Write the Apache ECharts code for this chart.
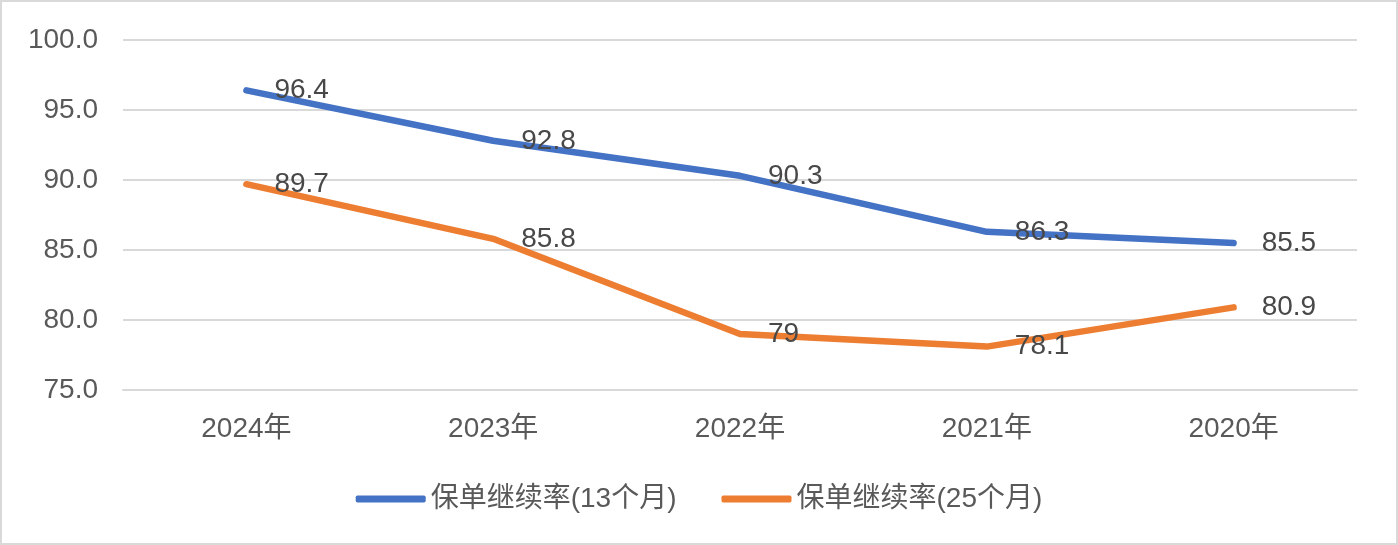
<!DOCTYPE html>
<html>
<head>
<meta charset="utf-8">
<script src="https://cdn.jsdelivr.net/npm/echarts@6/dist/echarts.min.js"></script>
<style>
html,body{margin:0;padding:0;background:#fff;}
#chart{width:1398px;height:545px;}
</style>
</head>
<body>
<div id="chart"></div>
<script>
const categories = ['2024年', '2023年', '2022年', '2021年', '2020年'];
const series13 = [96.4, 92.8, 90.3, 86.3, 85.5];
const series25 = [89.7, 85.8, 79, 78.1, 80.9];
const seriesNames = ['保单继续率(13个月)', '保单继续率(25个月)'];
const yMin = 75, yMax = 100, yInterval = 5;

const FONT = '"Liberation Sans", "Noto Sans CJK SC", sans-serif';
const TEXT = '#595959';

const chart = echarts.init(document.getElementById('chart'), null, {renderer: 'canvas'});

function lineSeries(name, data, color) {
  return {
    name: name,
    type: 'line',
    data: data,
    symbol: 'circle',
    symbolSize: 0.1,
    itemStyle: {color: color},
    lineStyle: {color: color, width: 6.5, cap: 'round', join: 'round'},
    label: {
      show: true,
      position: 'right',
      distance: 28,
      color: '#484848',
      fontSize: 28,
      fontFamily: FONT
    },
    emphasis: {disabled: true},
    animation: false
  };
}

chart.setOption({
  animation: false,
  graphic: [{
    type: 'rect',
    shape: {x: 1, y: 1, width: 1396, height: 543},
    style: {fill: 'none', stroke: '#d9d9d9', lineWidth: 2},
    silent: true
  }],
  grid: {left: 123, right: 41, top: 40, bottom: 155, containLabel: false},
  legend: {
    bottom: 27,
    left: 'center',
    itemWidth: 70,
    itemHeight: 7,
    itemGap: 45,
    icon: 'roundRect',
    textStyle: {color: TEXT, fontSize: 28, fontFamily: FONT},
    data: seriesNames
  },
  xAxis: {
    type: 'category',
    data: categories,
    boundaryGap: true,
    axisLine: {show: true, lineStyle: {color: '#d9d9d9', width: 2}},
    axisTick: {show: false},
    axisLabel: {color: TEXT, fontSize: 28, fontFamily: FONT, margin: 25}
  },
  yAxis: {
    type: 'value',
    min: yMin,
    max: yMax,
    interval: yInterval,
    axisLine: {show: false},
    axisTick: {show: false},
    splitLine: {lineStyle: {color: '#d9d9d9', width: 2}},
    axisLabel: {
      color: TEXT, fontSize: 28, fontFamily: FONT, margin: 25,
      formatter: v => v.toFixed(1)
    }
  },
  series: [
    lineSeries(seriesNames[0], series13, '#4472C4'),
    lineSeries(seriesNames[1], series25, '#ED7D31')
  ]
});
</script>
</body>
</html>
